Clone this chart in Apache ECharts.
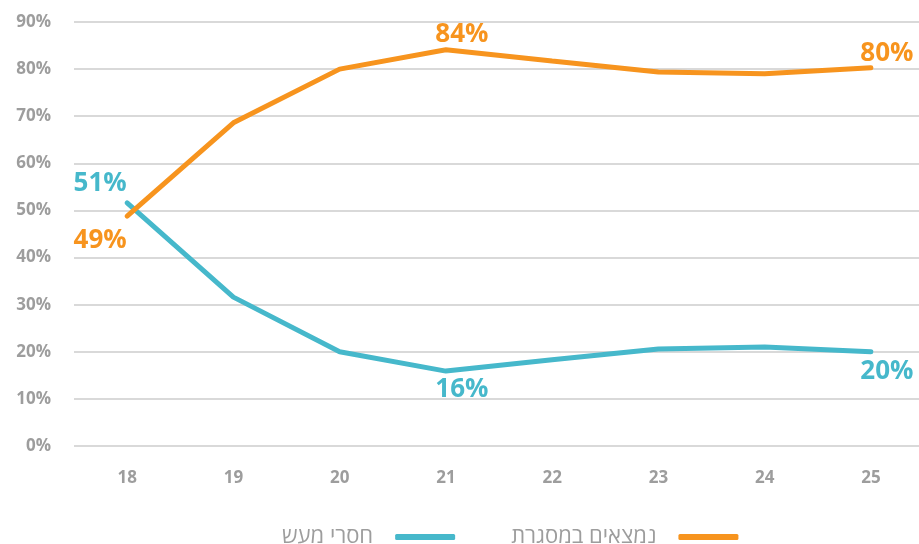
<!DOCTYPE html>
<html>
<head>
<meta charset="utf-8">
<script src="https://cdn.jsdelivr.net/npm/echarts@6/dist/echarts.min.js"></script>
<style>
  html, body { margin: 0; padding: 0; background: #fff; overflow: hidden; }
  #chart { width: 924px; height: 544px; }
</style>
</head>
<body>
<div id="chart"></div>
<script>
  // 数据
  const ages = ['18', '19', '20', '21', '22', '23', '24', '25']
  const inFrameworkName = 'נמצאים במסגרת'
  const idleName = 'חסרי מעש'
  const inFramework = [48.8, 68.6, 80, 84.1, 81.7, 79.4, 79, 80.3]
  const idle = [51.6, 31.6, 20, 15.9, 18.3, 20.6, 21, 20]
  const inFrameworkLabels = ['49%', null, null, '84%', null, null, null, '80%']
  const idleLabels = ['51%', null, null, '16%', null, null, null, '20%']

  const ORANGE = '#F7941E'
  const BLUE = '#46B8CB'
  const GREY = '#9d9d9d'

  // 标签偏移
  const orangeOffsets = [[-27, 24], null, null, [16, -15], null, null, null, [16, -14]]
  const blueOffsets = [[-27, -19], null, null, [16, 19], null, null, null, [16, 20]]

  const buildData = (values, labels, offsets, color) => values.map((v, i) => {
    if (!labels[i]) return v
    return {
      value: v,
      label: {
        show: true,
        position: 'inside',
        offset: offsets[i],
        formatter: labels[i],
        color: color,
        fontSize: 26,
        fontWeight: 'bold',
        fontFamily: 'Open Sans'
      }
    }
  })

  const chart = echarts.init(document.getElementById('chart'))
  chart.setOption({
    animation: false,
    grid: { left: 74, right: 0, top: 22, bottom: 98 },
    legend: {
      data: [idleName, inFrameworkName],
      left: 277,
      top: 521,
      align: 'right',
      icon: 'roundRect',
      itemWidth: 60,
      itemHeight: 6,
      itemGap: 56,
      textStyle: {
        color: GREY,
        fontSize: 22,
        fontFamily: 'Open Sans, DejaVu Sans',
        padding: [0, 17, 0, 0]
      }
    },
    xAxis: {
      type: 'category',
      data: ages,
      axisLine: { show: false },
      axisTick: { show: false },
      axisLabel: {
        color: GREY,
        fontSize: 17,
        fontWeight: 'bold',
        fontFamily: 'Open Sans',
        margin: 24
      }
    },
    yAxis: {
      type: 'value',
      min: 0,
      max: 90,
      interval: 10,
      axisLabel: {
        formatter: '{value}%',
        color: GREY,
        fontSize: 17,
        fontWeight: 'bold',
        fontFamily: 'Open Sans',
        margin: 23
      },
      splitLine: { lineStyle: { color: '#d9d9d9', width: 2 } }
    },
    series: [
      {
        name: inFrameworkName,
        type: 'line',
        symbol: 'circle',
        symbolSize: 1,
        data: buildData(inFramework, inFrameworkLabels, orangeOffsets, ORANGE),
        itemStyle: { color: ORANGE },
        lineStyle: { color: ORANGE, width: 5, cap: 'round' },
        z: 3
      },
      {
        name: idleName,
        type: 'line',
        symbol: 'circle',
        symbolSize: 1,
        data: buildData(idle, idleLabels, blueOffsets, BLUE),
        itemStyle: { color: BLUE },
        lineStyle: { color: BLUE, width: 5, cap: 'round' },
        z: 2
      }
    ]
  })
</script>
</body>
</html>
